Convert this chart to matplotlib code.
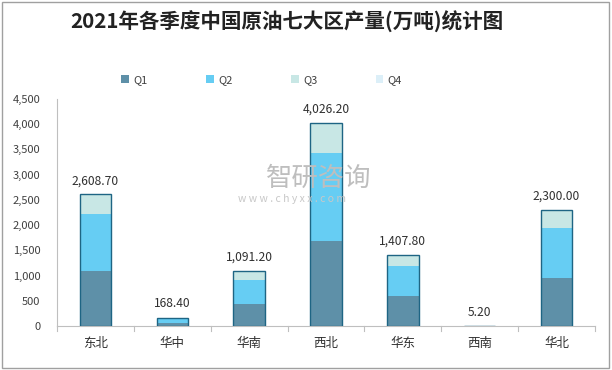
import matplotlib
matplotlib.use("Agg")
import matplotlib.pyplot as plt
from matplotlib.patches import Rectangle
import numpy as np

plt.rcParams['font.family'] = ['Noto Sans CJK SC', 'DejaVu Sans']

regions = ["东北", "华中", "华南", "西北", "华东", "西南", "华北"]
q1 = [1100.0, 53.0, 436.0, 1683.0, 594.0, 2.6, 950.0]
q2 = [1115.0, 115.4, 475.0, 1742.0, 600.0, 1.6, 990.0]
q3 = [393.7, 0.0, 180.2, 601.2, 213.8, 1.0, 360.0]
q4 = [0.0, 0.0, 0.0, 0.0, 0.0, 0.0, 0.0]
totals = [2608.70, 168.40, 1091.20, 4026.20, 1407.80, 5.20, 2300.00]
series_names = ["Q1", "Q2", "Q3", "Q4"]
colors = ["#5E90A8", "#66CDF3", "#C8E7E5", "#DCEFF8"]

fig = plt.figure(figsize=(6.12, 3.70), dpi=100)
fig.patch.set_facecolor("white")
fig.add_artist(Rectangle((0.003, 0.005), 0.992, 0.99, transform=fig.transFigure,
                         fill=False, edgecolor="#A0A0A0", linewidth=1.0))

ax = fig.add_axes([57/612, 44/370, 538/612, 227/370])
x = np.arange(len(regions))
w = 0.41
data = [q1, q2, q3, q4]
bottom = np.zeros(len(regions))
handles = []
for vals, c, name in zip(data, colors, series_names):
    b = ax.bar(x, vals, w, bottom=bottom, color=c, edgecolor="none", label=name, zorder=2)
    handles.append(b)
    bottom = bottom + np.array(vals)
# outline of whole bar
ax.bar(x, totals, w, fill=False, edgecolor="#1E6584", linewidth=1.0, zorder=3)

for xi, t in zip(x, totals):
    ax.text(xi, t + 140, f"{t:,.2f}", ha="center", va="bottom", fontsize=8.7, color="#303030")

ax.set_ylim(0, 4500)
ax.set_xlim(-0.5, len(regions) - 0.5)
ax.set_yticks(np.arange(0, 4501, 500))
ax.set_yticklabels([f"{v:,}" for v in range(0, 4501, 500)], fontsize=8, color="#404040")
ax.set_xticks(x)
ax.set_xticklabels(regions, fontsize=9, color="#303030")
ax.tick_params(axis="y", length=0, pad=12)
ax.tick_params(axis="x", length=0, pad=8)
for s in ["top", "right"]:
    ax.spines[s].set_visible(False)
ax.spines["left"].set_color("#BFBFBF")
ax.spines["bottom"].set_color("#BFBFBF")
# separator ticks between categories
for b in np.arange(-0.5, len(regions), 1.0):
    ax.plot([b, b], [0, -90], color="#BFBFBF", linewidth=0.8, clip_on=False)

fig.text(70/612, 1 - 22/370, "2021年各季度中国原油七大区产量(万吨)统计图", fontsize=14.8,
         fontweight="bold", color="#222222", ha="left", va="center")

leg = fig.legend(handles, series_names, loc="center left", bbox_to_anchor=(121/612, 1 - 80/370),
                 ncol=4, frameon=False, fontsize=8, handlelength=0.7, handleheight=0.7,
                 columnspacing=5.25, handletextpad=0.4, borderaxespad=0, borderpad=0)
for t in leg.get_texts():
    t.set_color("#404040")

# watermark
fig.text(266/612, 1 - 178/370, "智研咨询", fontsize=19, color="#BEBEBE", ha="left", va="center")
fig.text(238/612, 1 - 199/370, "w w w . c h y x x . c o m", fontsize=7.5, color="#C8C8C8", ha="left", va="center")

fig.savefig("out.png", dpi=100, facecolor="white")
